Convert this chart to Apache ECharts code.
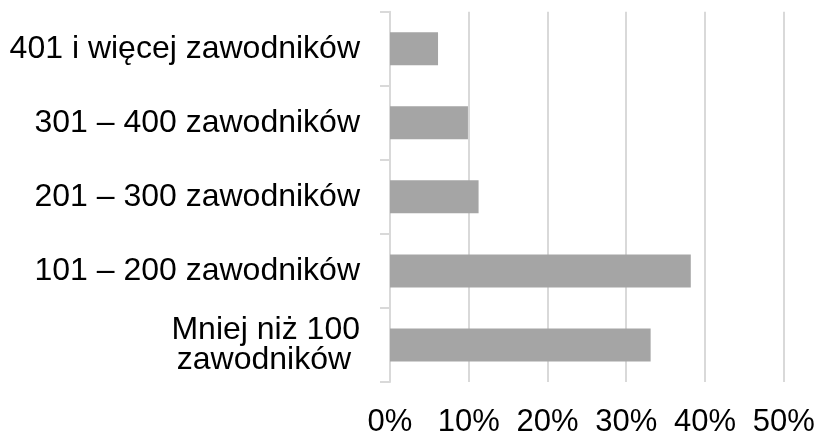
<!DOCTYPE html>
<html>
<head>
<meta charset="utf-8">
<script src="https://cdn.jsdelivr.net/npm/echarts@6/dist/echarts.min.js"></script>
<style>
html,body{margin:0;padding:0;background:#fff;}
#chart{width:821px;height:438px;}
</style>
</head>
<body>
<div id="chart"></div>
<script>
const categories = [
  "Mniej niż 100\nzawodników ",
  "101 – 200 zawodników",
  "201 – 300 zawodników",
  "301 – 400 zawodników",
  "401 i więcej zawodników"
];
const values = [0.331, 0.382, 0.1125, 0.099, 0.061];
const xTicks = [0, 0.1, 0.2, 0.3, 0.4, 0.5];

const chart = echarts.init(document.getElementById('chart'), null, {renderer: 'canvas'});
chart.setOption({
  animation: false,
  backgroundColor: '#ffffff',
  grid: {left: 390, right: 37.3, top: 11.7, bottom: 52, containLabel: false},
  xAxis: {
    type: 'value',
    min: xTicks[0],
    max: xTicks[xTicks.length - 1],
    interval: 0.1,
    axisLine: {show: false},
    axisTick: {show: false},
    splitLine: {show: true, lineStyle: {color: '#d9d9d9', width: 2}},
    axisLabel: {
      color: '#000',
      fontFamily: 'Liberation Sans, Arial, sans-serif',
      fontSize: 31,
      margin: 25,
      formatter: v => Math.round(v * 100) + '%'
    }
  },
  yAxis: {
    type: 'category',
    data: categories,
    axisLine: {show: true, lineStyle: {color: '#d9d9d9', width: 2}},
    axisTick: {show: true, length: 10, lineStyle: {color: '#d9d9d9', width: 2}},
    splitLine: {show: false},
    axisLabel: {
      color: '#000',
      fontFamily: 'Liberation Sans, Arial, sans-serif',
      fontSize: 32,
      lineHeight: 30,
      margin: 30
    }
  },
  series: [{
    type: 'bar',
    data: values,
    barWidth: 33,
    itemStyle: {color: '#a5a5a5'}
  }]
});
</script>
</body>
</html>
